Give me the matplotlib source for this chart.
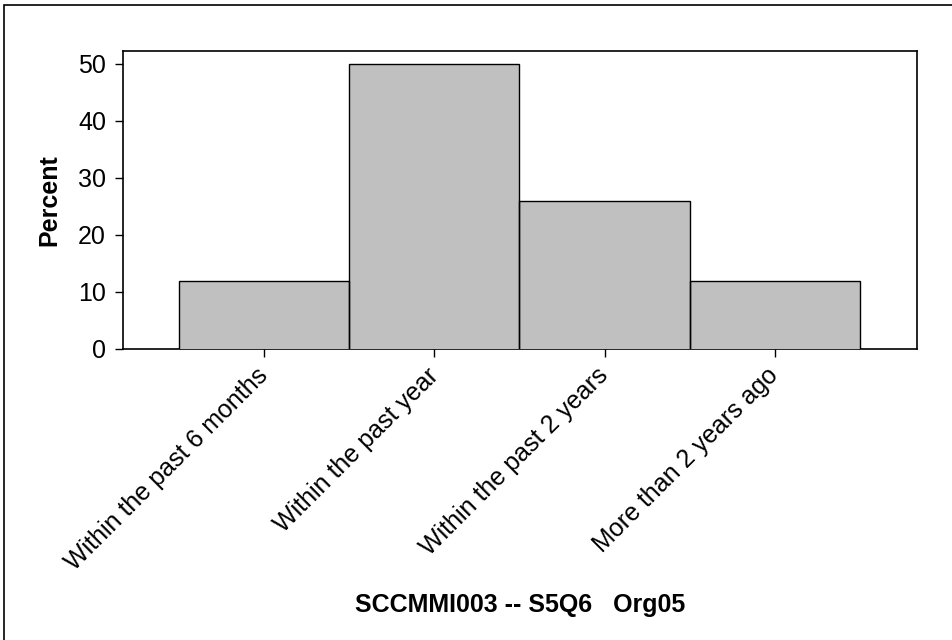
import numpy as np
import matplotlib.pyplot as plt
from matplotlib.patches import Rectangle

plt.rcParams['font.family'] = ['Liberation Sans', 'DejaVu Sans']

# data
categories = ["Within the past 6 months", "Within the past year",
              "Within the past 2 years", "More than 2 years ago"]
percent = [12, 50, 26, 12]
yticks = [0, 10, 20, 30, 40, 50]
title = "SCCMMI003 -- S5Q6   Org05"

fig = plt.figure(figsize=(9.52, 6.4), dpi=100)
W, H = 952, 640

# axes box in pixels
left, right, top, bottom = 122.7, 917, 50.7, 349
ax = fig.add_axes([left / W, 1 - bottom / H, (right - left) / W, (bottom - top) / H])

x = np.arange(len(categories))
bw = 1.0
ax.bar(x, percent, width=bw, color="#C0C0C0", edgecolor="none", zorder=3)
# outline on three sides only (bottom edge stays grey like the original)
for xi, h in zip(x, percent):
    ax.plot([xi - bw / 2, xi - bw / 2, xi + bw / 2, xi + bw / 2], [0, h, h, 0],
            color="black", linewidth=1.0, zorder=4, solid_joinstyle="miter")

ax.set_xlim(-0.83, 3.835)
ax.set_ylim(0, 52.3)
ax.set_yticks(yticks)
ax.set_xticks(x)
ax.set_xticklabels(categories, rotation=45, ha="right", va="center",
                   rotation_mode="anchor", fontsize=17)

ax.tick_params(axis="both", direction="out", length=6, width=1, color="black",
               labelsize=18)
ax.tick_params(axis="x", pad=10.5)
ax.tick_params(axis="y", pad=6)
for s in ax.spines.values():
    s.set_linewidth(1.2)
    s.set_zorder(1)

ax.set_ylabel("Percent", fontsize=18, fontweight="bold", labelpad=12)

fig.text(((left + right) / 2) / W, 1 - 605 / H, title, ha="center", va="center",
         fontsize=18, fontweight="bold")

# outer frame (left and top edges visible)
fig.patches.append(Rectangle((4 / W, -0.1), 1.2, 1.1 - 5 / H, transform=fig.transFigure,
                             fill=False, edgecolor="black", linewidth=1.2))

fig.savefig("out.png", dpi=100)
